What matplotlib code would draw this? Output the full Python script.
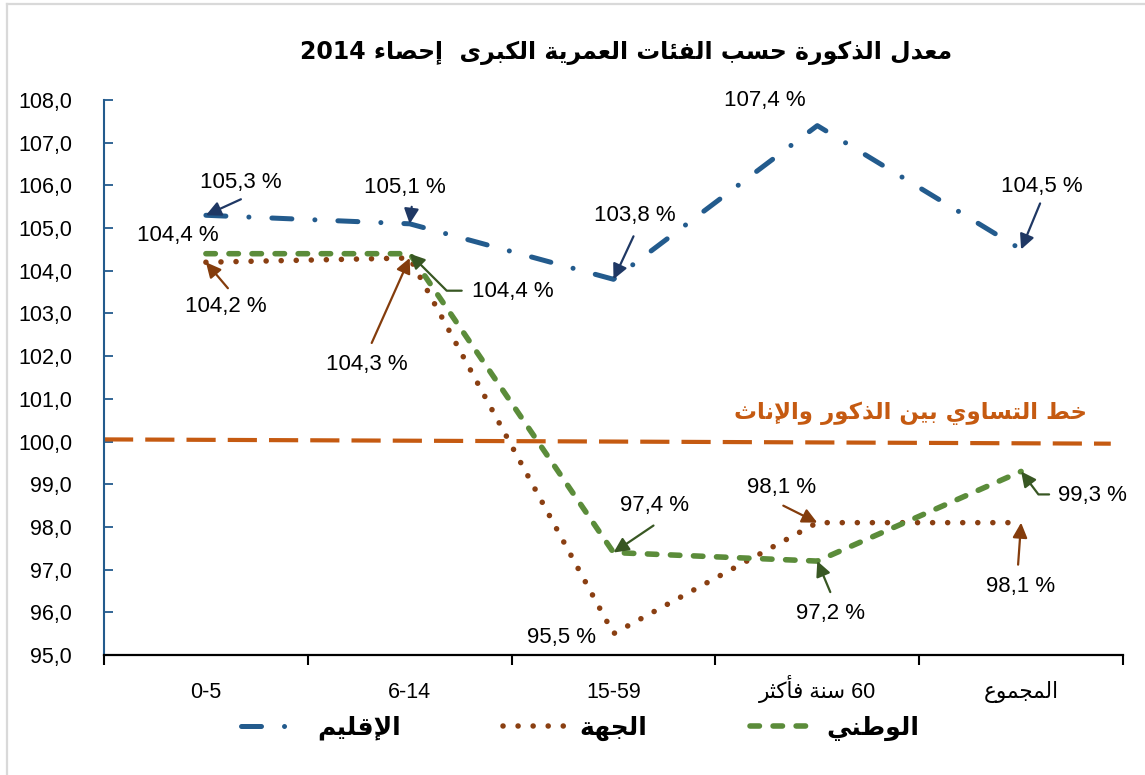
import matplotlib
matplotlib.use("Agg")
import matplotlib.pyplot as plt
from matplotlib.lines import Line2D
from matplotlib.font_manager import FontProperties
import numpy as np

# ---------------- data ----------------
categories = ["0-5", "6-14", "15-59", "60 سنة فأكثر", "المجموع"]
region = [105.3, 105.1, 103.8, 107.4, 104.5]      # الإقليم
jiha = [104.2, 104.3, 95.5, 98.1, 98.1]           # الجهة
national = [104.4, 104.4, 97.4, 97.2, 99.3]       # الوطني
equality = [100.05, 99.95]                         # خط التساوي
y_ticks = [95, 96, 97, 98, 99, 100, 101, 102, 103, 104, 105, 106, 107, 108]
series_names = ["الإقليم", "الجهة", "الوطني"]
title_text = "معدل الذكورة حسب الفئات العمرية الكبرى  إحصاء 2014"
equality_text = "خط التساوي بين الذكور والإناث"

# ---------------- minimal Arabic shaping (presentation forms) ----------------
_base = [("\u0621", 0xFE80, 1), ("\u0622", 0xFE81, 2), ("\u0623", 0xFE83, 2),
         ("\u0624", 0xFE85, 2), ("\u0625", 0xFE87, 2), ("\u0626", 0xFE89, 4),
         ("\u0627", 0xFE8D, 2), ("\u0628", 0xFE8F, 4), ("\u0629", 0xFE93, 2),
         ("\u062A", 0xFE95, 4), ("\u062B", 0xFE99, 4), ("\u062C", 0xFE9D, 4),
         ("\u062D", 0xFEA1, 4), ("\u062E", 0xFEA5, 4), ("\u062F", 0xFEA9, 2),
         ("\u0630", 0xFEAB, 2), ("\u0631", 0xFEAD, 2), ("\u0632", 0xFEAF, 2),
         ("\u0633", 0xFEB1, 4), ("\u0634", 0xFEB5, 4), ("\u0635", 0xFEB9, 4),
         ("\u0636", 0xFEBD, 4), ("\u0637", 0xFEC1, 4), ("\u0638", 0xFEC5, 4),
         ("\u0639", 0xFEC9, 4), ("\u063A", 0xFECD, 4), ("\u0641", 0xFED1, 4),
         ("\u0642", 0xFED5, 4), ("\u0643", 0xFED9, 4), ("\u0644", 0xFEDD, 4),
         ("\u0645", 0xFEE1, 4), ("\u0646", 0xFEE5, 4), ("\u0647", 0xFEE9, 4),
         ("\u0648", 0xFEED, 2), ("\u0649", 0xFEEF, 2), ("\u064A", 0xFEF1, 4)]
FORMS = {c: [chr(s + i) for i in range(n)] for c, s, n in _base}
LAMALEF = {"\u0622": ("\uFEF5", "\uFEF6"), "\u0623": ("\uFEF7", "\uFEF8"),
           "\u0625": ("\uFEF9", "\uFEFA"), "\u0627": ("\uFEFB", "\uFEFC")}


def _jt(u):
    if isinstance(u, tuple):
        return "R"
    f = FORMS.get(u)
    if f is None:
        return "U"
    return {1: "U", 2: "R", 4: "D"}[len(f)]


def shape_word(s):
    units, i = [], 0
    while i < len(s):
        if s[i] == "\u0644" and i + 1 < len(s) and s[i + 1] in LAMALEF:
            units.append(("LA", s[i + 1]))
            i += 2
        else:
            units.append(s[i])
            i += 1
    out = []
    for k, u in enumerate(units):
        pj = k > 0 and _jt(units[k - 1]) == "D" and _jt(u) in "DR"
        nj = k < len(units) - 1 and _jt(u) == "D" and _jt(units[k + 1]) in "DR"
        if isinstance(u, tuple):
            out.append(LAMALEF[u[1]][1 if pj else 0])
        elif u in FORMS:
            f = FORMS[u]
            if pj and nj:
                out.append(f[3])
            elif pj:
                out.append(f[1])
            elif nj:
                out.append(f[2])
            else:
                out.append(f[0])
        else:
            out.append(u)
    return "".join(out)[::-1]


def ar(text):
    toks = text.split(" ")
    res = []
    for t in toks:
        if any("\u0600" <= ch <= "\u06FF" for ch in t):
            res.append(shape_word(t))
        else:
            res.append(t)
    return " ".join(res[::-1])


def fmt(v):
    return f"{v:.1f}".replace(".", ",")


# ---------------- style ----------------
NUM_FONT = ["Liberation Sans", "DejaVu Sans"]
AR_FONT = ["DejaVu Sans"]
blue_c = "#235B8D"
brown_c = "#8A3F12"
green_c = "#5B8C3A"
orange_c = "#C55A11"
blue_arrow = "#1F3864"
brown_arrow = "#843C0C"
green_arrow = "#385723"

W, H = 1145, 775
fig = plt.figure(figsize=(W / 100, H / 100), dpi=100)
fig.patch.set_facecolor("white")

# outer light frame (left and top edge visible)
fig.add_artist(Line2D([7 / W, 7 / W], [1 - 4 / H, 0], transform=fig.transFigure,
                      color="#D9D9D9", lw=1.6))
fig.add_artist(Line2D([7 / W, 1], [1 - 4 / H, 1 - 4 / H], transform=fig.transFigure,
                      color="#D9D9D9", lw=1.6))

ax = fig.add_axes([104 / W, 1 - 655 / H, (1123 - 104) / W, (655 - 100) / H])
x = np.arange(len(categories))
ax.set_xlim(-0.5, len(categories) - 0.5)
ax.set_ylim(y_ticks[0], y_ticks[-1])

# equality line
ax.plot([-0.5, len(categories) - 0.56], equality, color=orange_c, lw=3.0,
        linestyle=(0, (7.0, 2.9)), dash_capstyle="butt", zorder=2)

l_jiha, = ax.plot(x, jiha, color=brown_c, lw=4.0, linestyle=(0, (0.01, 2.7)),
                  dash_capstyle="round", zorder=3)
l_nat, = ax.plot(x, national, color=green_c, lw=4.0, linestyle=(0, (1.7, 2.45)),
                 dash_capstyle="round", zorder=4)
l_reg, = ax.plot(x, region, color=blue_c, lw=3.6, linestyle=(0, (4.0, 4.6, 0.01, 4.6)),
                 dash_capstyle="round", zorder=5)

# axes styling
for s in ("top", "right"):
    ax.spines[s].set_visible(False)
ax.spines["left"].set_color(blue_c)
ax.spines["left"].set_linewidth(1.5)
ax.spines["bottom"].set_color("black")
ax.spines["bottom"].set_linewidth(1.6)

ax.set_yticks(y_ticks)
ax.set_yticklabels([fmt(v) for v in y_ticks], fontfamily=NUM_FONT, fontsize=15.5)
ax.tick_params(axis="y", direction="in", length=6.5, width=1.3, color=blue_c,
               labelcolor="black", pad=23)

ax.set_xticks(np.arange(-0.5, len(categories)))
ax.set_xticklabels([])
ax.tick_params(axis="x", which="major", direction="out", length=7.2, width=1.5,
               color="black")
ax.set_xticks(x, minor=True)
ax.set_xticklabels([ar(c) for c in categories], minor=True,
                   fontfamily=NUM_FONT, fontsize=15.5)
ax.tick_params(axis="x", which="minor", length=0, pad=31)
for t in ax.get_xticklabels(minor=True):
    t.set_verticalalignment("baseline")

# ---------------- data labels & arrows ----------------
LBL = dict(fontfamily=NUM_FONT, fontsize=16, color="black")


def label(xi, v, off, ha="center"):
    ax.annotate(fmt(v) + " %", xy=(xi, v), xytext=off, textcoords="offset pixels",
                ha=ha, va="center", zorder=8, **LBL)


def arrow(xi, v, tail, color, conn="arc3"):
    ax.annotate("", xy=(xi, v), xytext=tail, textcoords="offset pixels",
                arrowprops=dict(arrowstyle="-|>,head_length=0.45,head_width=0.22",
                                mutation_scale=20, color=color, lw=1.6,
                                shrinkA=0, shrinkB=0, connectionstyle=conn),
                zorder=7)


# region (blue)
reg_text = [(35, 33), (-5, 36), (21, 64), (-52, 25), (21, 63)]
reg_tail = [(35, 16), (2, 17), (20, 43), None, (19, 46)]
for i, v in enumerate(region):
    label(x[i], v, reg_text[i])
    if reg_tail[i] is not None:
        arrow(x[i], v, reg_tail[i], blue_arrow)

# jiha (brown)
jiha_text = [(20, -44), (-43, -107), (-52, -4), (-36, 35), (-1, -64)]
jiha_tail = [(22, -26), (-38, -85), None, (-34, 17), (-3, -42)]
for i, v in enumerate(jiha):
    label(x[i], v, jiha_text[i])
    if jiha_tail[i] is not None:
        arrow(x[i], v, jiha_tail[i], brown_arrow)

# national (green)
nat_text = [(-28, 18), (62, -38), (41, 47), (13, -52), (37, -24)]
nat_ha = ["center", "left", "center", "center", "left"]
nat_tail = [None, (52, -37), (40, 27), (13, -31), (28, -23)]
nat_conn = [None, "angle,angleA=0,angleB=-45,rad=0", "arc3", "arc3",
            "angle,angleA=0,angleB=-53,rad=0"]
for i, v in enumerate(national):
    label(x[i], v, nat_text[i], ha=nat_ha[i])
    if nat_tail[i] is not None:
        arrow(x[i], v, nat_tail[i], green_arrow, nat_conn[i])

# equality label
fig.text(910 / W, 1 - 413 / H, ar(equality_text), ha="center", va="center",
         fontfamily=AR_FONT, fontweight="bold", fontsize=16.5, color=orange_c)

# title
fig.text(626 / W, 1 - 53 / H, ar(title_text), ha="center", va="center",
         fontfamily=AR_FONT, fontweight="bold", fontsize=17, color="black")

# legend
leg = ax.legend([l_reg, l_jiha, l_nat], [ar(n) for n in series_names], ncol=3,
                loc="center", bbox_to_anchor=(580 / W, 1 - 728 / H),
                bbox_transform=fig.transFigure, frameon=False,
                prop=FontProperties(family="DejaVu Sans", weight="bold", size=18),
                handlelength=2.6, handletextpad=0.45, columnspacing=4.1,
                borderpad=0, borderaxespad=0)

fig.savefig("out.png", dpi=100, facecolor="white")
